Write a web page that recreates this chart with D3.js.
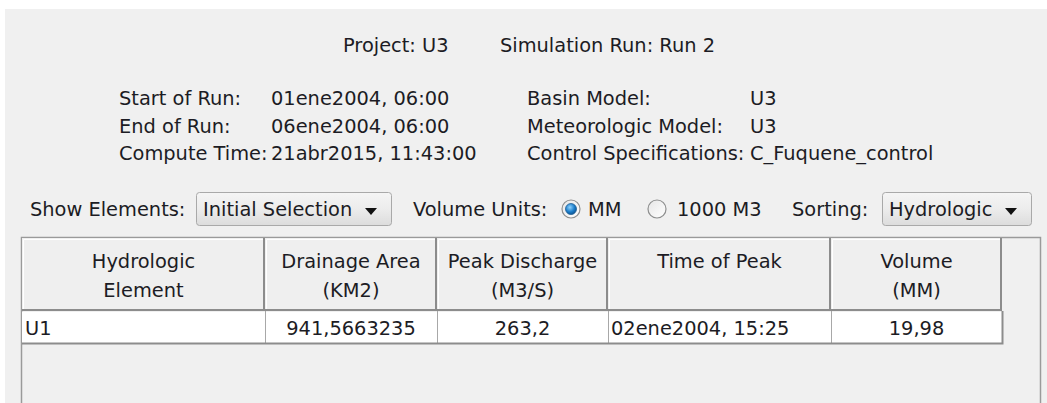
<!DOCTYPE html>
<html>
<head>
<meta charset="utf-8">
<script src="https://cdn.jsdelivr.net/npm/d3@7"></script>
<style>
  body { margin:0; background:#fff; }
  svg text { font-family:"DejaVu Sans", sans-serif; font-size:19.4px; fill:#1c1c24; }
</style>
</head>
<body>
<script>
// summary values
var titleItems = ["Project: U3", "Simulation Run: Run 2"];
var runLabels = ["Start of Run:", "End of Run:", "Compute Time:"];
var runValues = ["01ene2004, 06:00", "06ene2004, 06:00", "21abr2015, 11:43:00"];
var modelLabels = ["Basin Model:", "Meteorologic Model:", "Control Specifications:"];
var modelValues = ["U3", "U3", "C_Fuquene_control"];

// table
var columns = [["Hydrologic", "Element"], ["Drainage Area", "(KM2)"], ["Peak Discharge", "(M3/S)"], ["Time of Peak", ""], ["Volume", "(MM)"]];
var elements = ["U1"];
var drainageArea = ["941,5663235"];
var peakDischarge = ["263,2"];
var timeOfPeak = ["02ene2004, 15:25"];
var volume = ["19,98"];

var width = 1047, height = 403;

var svg = d3.select("body").append("svg")
  .attr("width", width)
  .attr("height", height);

svg.append("rect")
  .attr("x", 5).attr("y", 9)
  .attr("width", width - 5).attr("height", height - 9)
  .attr("fill", "#f0f0f0");

var defs = svg.append("defs");
var grad = defs.append("linearGradient").attr("id", "combo").attr("x1", 0).attr("y1", 0).attr("x2", 0).attr("y2", 1);
grad.append("stop").attr("offset", "0%").attr("stop-color", "#f5f5f5");
grad.append("stop").attr("offset", "50%").attr("stop-color", "#ececec");
grad.append("stop").attr("offset", "100%").attr("stop-color", "#dcdcdc");
var dot = defs.append("radialGradient").attr("id", "dot").attr("cx", "40%").attr("cy", "35%").attr("r", "70%");
dot.append("stop").attr("offset", "0%").attr("stop-color", "#8fd3ff");
dot.append("stop").attr("offset", "60%").attr("stop-color", "#1a7cc9");
dot.append("stop").attr("offset", "100%").attr("stop-color", "#0b4f8a");
var ring = defs.append("linearGradient").attr("id", "ring").attr("x1", 0).attr("y1", 0).attr("x2", 1).attr("y2", 1);
ring.append("stop").attr("offset", "0%").attr("stop-color", "#e6e6e6");
ring.append("stop").attr("offset", "100%").attr("stop-color", "#ffffff");

// title line
svg.selectAll(".title")
  .data(titleItems)
  .enter().append("text")
  .attr("class", "title")
  .attr("x", (d, i) => [343, 500][i])
  .attr("y", 52)
  .text(d => d);

// run info block
var rowY = d3.scalePoint().domain(d3.range(runLabels.length)).range([105, 160]);

function infoColumn(list, x) {
  svg.append("g").selectAll("text")
    .data(list)
    .enter().append("text")
    .attr("x", x)
    .attr("y", (d, i) => rowY(i))
    .text(d => d);
}
infoColumn(runLabels, 119);
infoColumn(runValues, 271);
infoColumn(modelLabels, 527);
infoColumn(modelValues, 750);

// toolbar
var barY = 216;
function label(txt, x) {
  svg.append("text").attr("x", x).attr("y", barY).text(txt);
}
function combo(txt, x, w) {
  var g = svg.append("g");
  g.append("rect")
    .attr("x", x + 0.5).attr("y", 192.5)
    .attr("width", w).attr("height", 33)
    .attr("rx", 3)
    .attr("fill", "url(#combo)")
    .attr("stroke", "#a9a9a9");
  g.append("text").attr("x", x + 7).attr("y", barY).text(txt);
  var ax = x + w - 20;
  g.append("path")
    .attr("d", "M" + (ax - 6) + "," + 208 + "L" + (ax + 6) + "," + 208 + "L" + ax + "," + 215 + "Z")
    .attr("fill", "#111");
}
function radio(cx, on) {
  svg.append("circle").attr("cx", cx).attr("cy", 209).attr("r", 9)
    .attr("fill", "url(#ring)").attr("stroke", "#8e8f8f").attr("stroke-width", 1.2);
  if (on) {
    svg.append("circle").attr("cx", cx).attr("cy", 209).attr("r", 5.5)
      .attr("fill", "url(#dot)").attr("stroke", "#1f5f95").attr("stroke-width", 0.8);
  }
}
label("Show Elements:", 30);
combo("Initial Selection", 196, 195);
label("Volume Units:", 413);
radio(571, true);
label("MM", 588);
radio(657, false);
label("1000 M3", 677);
label("Sorting:", 792);
combo("Hydrologic", 882, 149);

// table
var colEdges = [22, 265, 437, 608, 831, 1002];
var headTop = 238, headBottom = 311, rowBottom = 343;
var rows = elements.map((e, i) => [e, drainageArea[i], peakDischarge[i], timeOfPeak[i], volume[i]]);

var rowScale = d3.scaleBand().domain(d3.range(rows.length)).range([headBottom + 1, rowBottom]);

// outer frame of the scroll pane
svg.append("path")
  .attr("d", "M21.5," + height + "V237.5H1040.5V" + height)
  .attr("fill", "none")
  .attr("stroke", "#9a9a9a")
  .attr("stroke-width", 1.5);

var head = svg.append("g").selectAll("g")
  .data(columns)
  .enter().append("g");

head.append("rect")
  .attr("x", (d, i) => colEdges[i])
  .attr("y", headTop)
  .attr("width", (d, i) => colEdges[i + 1] - colEdges[i])
  .attr("height", headBottom - headTop)
  .attr("fill", "#efefef");

// light highlight and dark shade on each header cell
head.append("path")
  .attr("d", (d, i) => "M" + (colEdges[i] + 1.5) + "," + (headBottom - 1) + "V" + (headTop + 1.5) + "H" + (colEdges[i + 1] - 2))
  .attr("fill", "none").attr("stroke", "#ffffff").attr("stroke-width", 1);
head.append("path")
  .attr("d", (d, i) => "M" + colEdges[i] + "," + (headBottom - 1) + "H" + (colEdges[i + 1] - 1) + "V" + headTop)
  .attr("fill", "none").attr("stroke", "#8c8c8c").attr("stroke-width", 2);

head.selectAll("text")
  .data(d => d)
  .enter().append("text")
  .attr("x", function() {
    var i = columns.indexOf(d3.select(this.parentNode).datum());
    return (colEdges[i] + colEdges[i + 1]) / 2;
  })
  .attr("y", (d, j) => 268 + j * 29)
  .attr("text-anchor", "middle")
  .text(d => d);

// data rows
var row = svg.append("g").selectAll("g")
  .data(rows)
  .enter().append("g");

row.append("rect")
  .attr("x", colEdges[0])
  .attr("y", (d, i) => rowScale(i))
  .attr("width", colEdges[colEdges.length - 1] - colEdges[0])
  .attr("height", rowScale.bandwidth())
  .attr("fill", "#ffffff");

row.selectAll("line")
  .data(colEdges.slice(1, -1))
  .enter().append("line")
  .attr("x1", d => d + 0.5).attr("x2", d => d + 0.5)
  .attr("y1", headBottom).attr("y2", rowBottom)
  .attr("stroke", "#a8a8a8");

row.append("path")
  .attr("d", "M" + colEdges[0] + "," + (rowBottom + 0.5) + "H" + (colEdges[colEdges.length - 1] + 0.5) + "V" + headBottom)
  .attr("fill", "none").attr("stroke", "#8c8c8c").attr("stroke-width", 2);

row.selectAll("text")
  .data(d => d)
  .enter().append("text")
  .attr("x", (d, j) => j === 0 ? colEdges[0] + 3 : j === 3 ? colEdges[3] + 3 : (colEdges[j] + colEdges[j + 1]) / 2)
  .attr("y", function() {
    var i = rows.indexOf(d3.select(this.parentNode).datum());
    return rowScale(i) + rowScale.bandwidth() / 2 + 7;
  })
  .attr("text-anchor", (d, j) => (j === 0 || j === 3) ? "start" : "middle")
  .text(d => d);
</script>
</body>
</html>
